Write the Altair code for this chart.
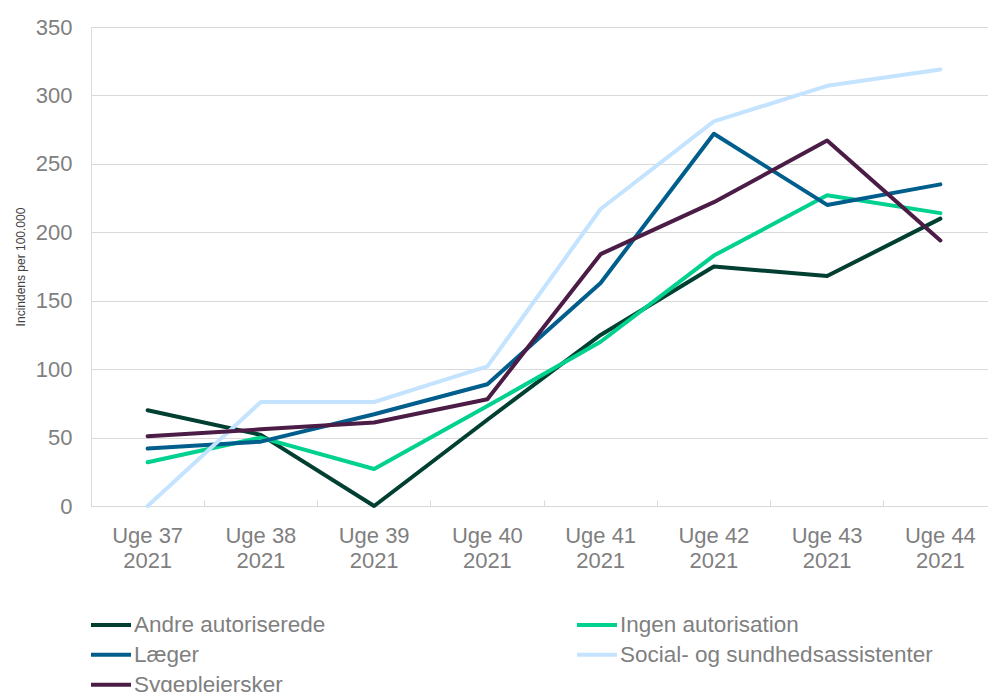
import altair as alt
import pandas as pd

# Weekly incidence per 100,000 among healthcare staff groups
weeks = ["Uge 37 2021", "Uge 38 2021", "Uge 39 2021", "Uge 40 2021",
         "Uge 41 2021", "Uge 42 2021", "Uge 43 2021", "Uge 44 2021"]

groups = ["Andre autoriserede", "Ingen autorisation", "Læger",
          "Social- og sundhedsassistenter", "Sygeplejersker"]

andre_autoriserede = [70, 52, 0, 63, 125, 175, 168, 210]
ingen_autorisation = [32, 50, 27, 73, 120, 183, 227, 214]
laeger = [42, 47, 67, 89, 163, 272, 220, 235]
social_sundhed = [0, 76, 76, 102, 217, 281, 307, 319]
sygeplejersker = [51, 56, 61, 78, 184, 222, 267, 194]

colors = ["#003F31", "#00D18F", "#005E8D", "#C4E3FF", "#4B1C45"]

series = [andre_autoriserede, ingen_autorisation, laeger, social_sundhed, sygeplejersker]
rows = []
for g, vals in zip(groups, series):
    for w, v in zip(weeks, vals):
        rows.append({"uge": w, "gruppe": g, "incidens": v})
df = pd.DataFrame(rows)

label_font = "Liberation Sans"
label_color = "#7F7F7F"

x_enc = alt.X(
    "uge:N",
    sort=weeks,
    scale=alt.Scale(type="band", range=[0, 906], paddingInner=0, paddingOuter=0),
    axis=alt.Axis(
        title=None,
        labelAngle=0,
        bandPosition=0,
        domain=False,
        grid=False,
        ticks=True,
        tickSize=6,
        tickColor="#D9D9D9",
        tickWidth=1,
        offset=-6,
        labelPadding=19,
        labelExpr="[slice(datum.label, 0, 6), slice(datum.label, 7)]",
        labelFont=label_font,
        labelFontSize=22,
        labelColor=label_color,
        labelLineHeight=25,
        labelBaseline="top",
        labelAlign="center",
        labelBound=False,
        labelOverlap=False,
        labelFlush=False,
    ),
)

lines = alt.Chart(df).mark_line(strokeWidth=4, strokeCap="round", strokeJoin="round").encode(
    x=x_enc,
    y=alt.Y(
        "incidens:Q",
        scale=alt.Scale(domain=[0, 350], nice=False, zero=True),
        axis=alt.Axis(
            title="Incindens per 100.000",
            titleFont=label_font,
            titleFontSize=12,
            titleFontWeight="normal",
            titleColor="#404040",
            titlePadding=8,
            values=[0, 50, 100, 150, 200, 250, 300, 350],
            domain=False,
            ticks=False,
            grid=True,
            gridColor="#D9D9D9",
            gridWidth=1,
            labelPadding=19,
            labelFont=label_font,
            labelFontSize=22,
            labelColor=label_color,
        ),
    ),
    color=alt.Color(
        "gruppe:N",
        sort=groups,
        scale=alt.Scale(domain=groups, range=colors),
        legend=alt.Legend(
            title=None,
            orient="none",
            direction="horizontal",
            legendX=-2,
            legendY=583,
            columns=2,
            gridAlign="each",
            columnPadding=249,
            rowPadding=0,
            clipHeight=29.5,
            symbolType="stroke",
            symbolSize=1600,
            symbolStrokeWidth=4,
            labelOffset=1,
            labelFont=label_font,
            labelFontSize=22.5,
            labelColor=label_color,
            labelLimit=600,
        ),
    ),
    order=alt.Order("gruppe:N"),
)

chart = lines.properties(
    width=897,
    height=479,
    autosize=alt.AutoSizeParams(type="none"),
    padding={"left": 91, "top": 27, "right": 0, "bottom": 186},
).configure_view(strokeWidth=0).configure(background="white")

chart.save("out.html", embed_options={"renderer": "svg", "actions": False})
